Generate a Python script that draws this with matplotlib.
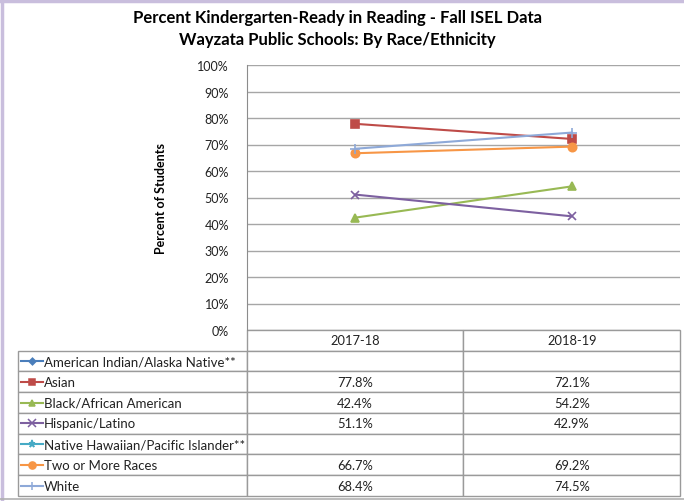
import matplotlib
matplotlib.use("Agg")
import matplotlib.pyplot as plt
from matplotlib.lines import Line2D
import numpy as np

plt.rcParams["font.family"] = ["Lato", "DejaVu Sans"]

# ---- data ----
years = ["2017-18", "2018-19"]
groups = [
    "American Indian/Alaska Native**",
    "Asian",
    "Black/African American",
    "Hispanic/Latino",
    "Native Hawaiian/Pacific Islander**",
    "Two or More Races",
    "White",
]
american_indian = [None, None]
asian = [77.8, 72.1]
black = [42.4, 54.2]
hispanic = [51.1, 42.9]
native_hawaiian = [None, None]
two_or_more = [66.7, 69.2]
white = [68.4, 74.5]
series = [american_indian, asian, black, hispanic, native_hawaiian, two_or_more, white]

colors = ["#4A7EBB", "#BE4B48", "#98B954", "#7D60A0", "#46AAC5", "#F79646", "#8EA9D8"]
markers = ["D", "s", "^", "x", "*", "o", "+"]
msizes = [4, 5.5, 5.5, 6, 6, 6, 7]

W, H = 684, 502
fig = plt.figure(figsize=(W / 100, H / 100), dpi=100, facecolor="white")

# plot area in pixel coords
px0, px1, py0, py1 = 247, 680, 66, 331
ax = fig.add_axes([px0 / W, 1 - py1 / H, (px1 - px0) / W, (py1 - py0) / H])

x = np.arange(len(years))
for vals, c, m, ms in zip(series, colors, markers, msizes):
    v = np.array([np.nan if a is None else a for a in vals], dtype=float)
    ax.plot(x, v, color=c, lw=1.5, marker=m, ms=ms, mec=c, mew=1.2, zorder=3)

ax.set_xlim(-0.5, len(years) - 0.5)
ax.set_ylim(0, 100)
ax.set_yticks(np.arange(0, 101, 10))
ax.set_yticklabels([f"{t}%" for t in range(0, 101, 10)], fontsize=9, color="#222222")
ax.set_xticks([])
ax.grid(axis="y", color="#A6A6A6", lw=1)
ax.set_axisbelow(True)
for s in ["top", "right", "bottom"]:
    ax.spines[s].set_visible(False)
ax.spines["left"].set_color("#8C8C8C")
ax.tick_params(axis="y", length=0, pad=13)

ax.set_ylabel("Percent of Students", fontsize=9, fontweight="bold", labelpad=22)

# ---- data table ----
plot_w = px1 - px0
plot_h = py1 - py0
tx0, ty1 = 18, 497
row_h = (ty1 - py1) / (len(groups) + 1)
cell_text = [[""] + years]
for vals in series:
    cell_text.append([""] + ["" if a is None else f"{a:.1f}%" for a in vals])

col_w = [px0 - tx0, plot_w / 2, plot_w / 2]
tbl = ax.table(
    cellText=cell_text,
    colWidths=[c / sum(col_w) for c in col_w],
    cellLoc="center",
    bbox=[(tx0 - px0) / plot_w, -(ty1 - py1) / plot_h, (px1 - tx0) / plot_w, (ty1 - py1) / plot_h],
)
tbl.auto_set_font_size(False)
tbl.set_fontsize(9.3)
for (r, c), cell in tbl.get_celld().items():
    cell.set_edgecolor("#9A9A9A")
    cell.set_linewidth(1)
    cell.get_text().set_color("#222222")
    if r == 0 and c == 0:
        cell.visible_edges = ""

# legend keys + labels in first column
for i, (g, c, m, ms) in enumerate(zip(groups, colors, markers, msizes)):
    yc = py1 + row_h * (i + 1.5)
    ya = 1 - (yc - py0) / plot_h
    xa0 = (21 - px0) / plot_w
    xa1 = (43 - px0) / plot_w
    xm = (32 - px0) / plot_w
    ax.add_line(Line2D([xa0, xa1], [ya, ya], transform=ax.transAxes, color=c, lw=1.5, clip_on=False))
    ax.add_line(Line2D([xm], [ya], transform=ax.transAxes, color=c, marker=m, ms=ms * 0.85,
                       mec=c, mew=1.1, clip_on=False))
    ax.text((44 - px0) / plot_w, ya, g, transform=ax.transAxes, fontsize=9.5, color="#222222",
            va="center", ha="left")

fig.text(337.5 / W, 1 - 18 / H, "Percent Kindergarten-Ready in Reading - Fall ISEL Data",
         ha="center", va="center", fontsize=12, fontweight="bold")
fig.text(337.5 / W, 1 - 40 / H, "Wayzata Public Schools: By Race/Ethnicity",
         ha="center", va="center", fontsize=12, fontweight="bold")

# outer frame
fig.add_artist(Line2D([1.5 / W, 1.5 / W], [0, 1], color="#C9BEDD", lw=2.5))
fig.add_artist(Line2D([0, 1], [1 - 1.5 / H, 1 - 1.5 / H], color="#C9BEDD", lw=2.5))
fig.add_artist(Line2D([0, 1], [1 - 500 / H, 1 - 500 / H], color="#B0B0B0", lw=1.2))

fig.savefig("out.png", dpi=100, facecolor="white")
